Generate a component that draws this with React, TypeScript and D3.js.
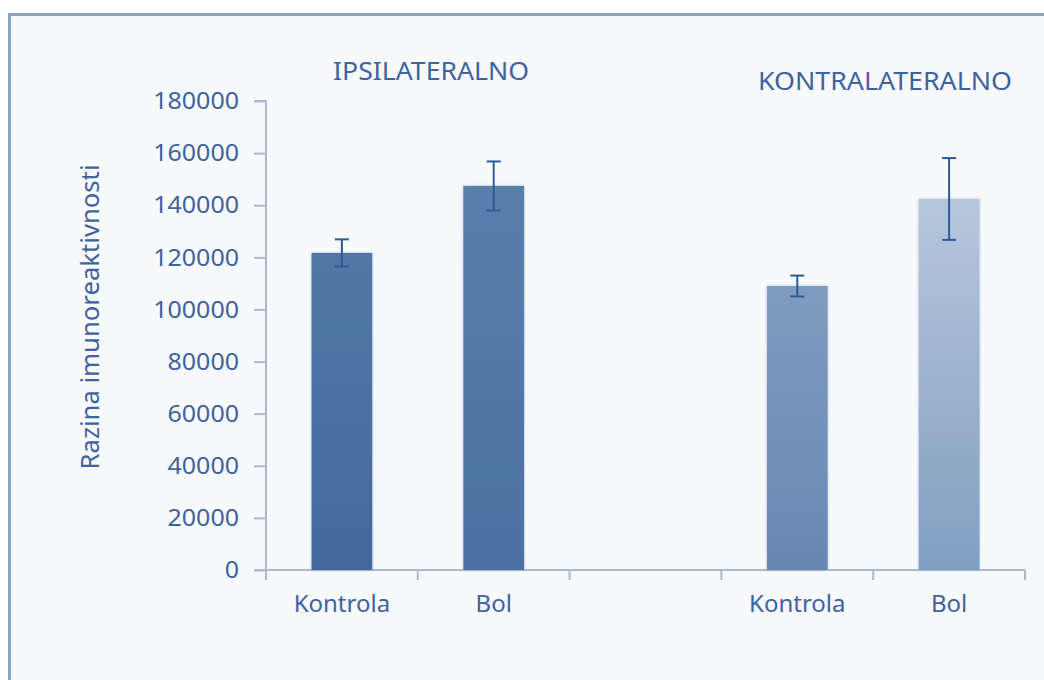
import React, { useEffect, useRef } from 'react';
import * as d3 from 'd3';

// categories on the x axis (the middle slot is an empty gap)
const categories = ['ipsi-kontrola', 'ipsi-bol', 'gap', 'kontra-kontrola', 'kontra-bol'];
const tickLabels = ['Kontrola', 'Bol', '', 'Kontrola', 'Bol'];
const values = [121700, 147400, null, 109000, 142400];
const errors = [5200, 9400, null, 4000, 15700];
const yTicks = [0, 20000, 40000, 60000, 80000, 100000, 120000, 140000, 160000, 180000];
const groupTitles = ['IPSILATERALNO', 'KONTRALATERALNO'];

// bar gradients (top, bottom)
const barColors: [string, string][] = [
    ['#5178a7', '#44699c'],
    ['#5a7fad', '#4a70a1'],
    ['', ''],
    ['#7f9cc0', '#6788b2'],
    ['#b6c7dc', '#819ec1'],
];

const width = 1044;
const height = 680;
const margin = { top: 101, right: 19, bottom: 110, left: 266 };
const font = '"Noto Sans", sans-serif';
const textColor = '#3e63a0';

export default function App() {
    const svgRef = useRef<SVGSVGElement>(null);

    useEffect(() => {
        if (!svgRef.current) return;
        const svg = d3.select(svgRef.current);
        svg.selectAll('*').remove();

        const x = d3.scaleBand<string>().domain(categories).range([margin.left, width - margin.right]).padding(0);
        const y = d3.scaleLinear().domain([0, 180000]).range([height - margin.bottom, margin.top]);

        svg.append('rect').attr('width', width).attr('height', height).attr('fill', '#ffffff');
        svg.append('rect')
            .attr('x', 9.5).attr('y', 14.5).attr('width', 1060).attr('height', 700)
            .attr('fill', '#f7f9fb').attr('stroke', '#8ca5c6').attr('stroke-width', 3);

        const defs = svg.append('defs');
        barColors.forEach((c, i) => {
            const g = defs.append('linearGradient').attr('id', `bar-grad-${i}`)
                .attr('x1', 0).attr('y1', 0).attr('x2', 0).attr('y2', 1);
            g.append('stop').attr('offset', '0%').attr('stop-color', c[0]);
            g.append('stop').attr('offset', '100%').attr('stop-color', c[1]);
        });
        const f = defs.append('filter').attr('id', 'shadow').attr('x', '-20%').attr('y', '-20%').attr('width', '140%').attr('height', '140%');
        f.append('feDropShadow').attr('dx', 0).attr('dy', 0).attr('stdDeviation', 1.5).attr('flood-color', '#8ca5c6').attr('flood-opacity', 0.6);

        // y axis
        const yAxis = svg.append('g')
            .attr('transform', `translate(${margin.left},0)`)
            .call(d3.axisLeft(y).tickValues(yTicks).tickSize(12).tickPadding(15).tickFormat(d => String(d)));
        yAxis.select('.domain').attr('stroke', '#a9bbd3').attr('stroke-width', 2).attr('d', `M-12,${y(180000)}H0V${y(0)}`);
        yAxis.selectAll('.tick line').attr('stroke', '#a9bbd3').attr('stroke-width', 2);
        yAxis.selectAll('.tick text').attr('fill', textColor).attr('font-family', font).attr('font-size', 24)
            .attr('textLength', d => String(d).length * 14.3).attr('lengthAdjust', 'spacingAndGlyphs');

        // x axis
        const xAxis = svg.append('g').attr('transform', `translate(0,${y(0)})`);
        xAxis.append('line')
            .attr('x1', margin.left - 12).attr('x2', width - margin.right)
            .attr('stroke', '#a9bbd3').attr('stroke-width', 2);
        const edges = categories.map(c => x(c) as number).concat([width - margin.right]);
        xAxis.selectAll('.xtick').data(edges).enter().append('line')
            .attr('x1', d => d).attr('x2', d => d).attr('y1', 0).attr('y2', 10)
            .attr('stroke', '#a9bbd3').attr('stroke-width', 2);
        xAxis.selectAll('.xlabel').data(categories).enter().append('text')
            .attr('x', d => (x(d) as number) + x.bandwidth() / 2)
            .attr('y', 42)
            .attr('text-anchor', 'middle')
            .attr('fill', textColor).attr('font-family', font).attr('font-size', 24)
            .text((_, i) => tickLabels[i]);

        // bars
        const barW = x.bandwidth() * 0.4;
        const data = categories.map((c, i) => ({ c, i, v: values[i], e: errors[i] })).filter(d => d.v !== null);
        svg.selectAll('.bar').data(data).enter().append('rect')
            .attr('x', d => (x(d.c) as number) + x.bandwidth() / 2 - barW / 2)
            .attr('y', d => y(d.v as number))
            .attr('width', barW)
            .attr('height', d => y(0) - y(d.v as number))
            .attr('fill', d => `url(#bar-grad-${d.i})`)
            .attr('filter', 'url(#shadow)');

        // error bars
        const eg = svg.append('g').attr('stroke', '#2f5b95').attr('stroke-width', 2).attr('fill', 'none');
        data.forEach(d => {
            const cx = (x(d.c) as number) + x.bandwidth() / 2;
            const top = y((d.v as number) + (d.e as number));
            const bot = y((d.v as number) - (d.e as number));
            eg.append('line').attr('x1', cx).attr('x2', cx).attr('y1', top).attr('y2', bot);
            eg.append('line').attr('x1', cx - 7).attr('x2', cx + 7).attr('y1', top).attr('y2', top);
            eg.append('line').attr('x1', cx - 7).attr('x2', cx + 7).attr('y1', bot).attr('y2', bot);
        });

        // group titles
        svg.append('text').attr('x', 431).attr('y', 80).attr('text-anchor', 'middle')
            .attr('fill', textColor).attr('font-family', font).attr('font-size', 25)
            .attr('textLength', 196).attr('lengthAdjust', 'spacingAndGlyphs').text(groupTitles[0]);
        svg.append('text').attr('x', 885).attr('y', 90).attr('text-anchor', 'middle')
            .attr('fill', textColor).attr('font-family', font).attr('font-size', 25)
            .attr('textLength', 254).attr('lengthAdjust', 'spacingAndGlyphs').text(groupTitles[1]);

        // y axis title
        svg.append('text')
            .attr('transform', `translate(99,${317}) rotate(-90)`)
            .attr('text-anchor', 'middle')
            .attr('fill', textColor).attr('font-family', font).attr('font-size', 25)
            .attr('textLength', 305).attr('lengthAdjust', 'spacingAndGlyphs')
            .text('Razina imunoreaktivnosti');
    }, []);

    return (
        <svg ref={svgRef} width={width} height={height}
            style={{ position: 'fixed', left: 0, top: 0, display: 'block' }} />
    );
}
